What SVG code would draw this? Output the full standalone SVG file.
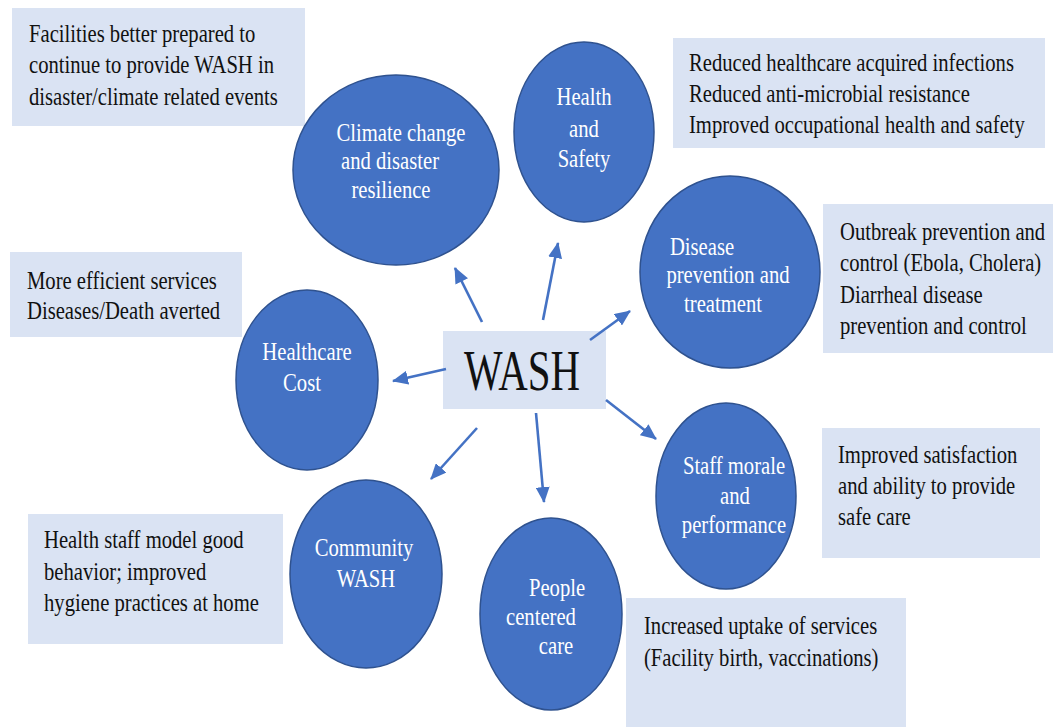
<svg xmlns="http://www.w3.org/2000/svg" width="1053" height="727" viewBox="0 0 1053 727">
<defs>
<marker id="ah" markerUnits="userSpaceOnUse" markerWidth="16" markerHeight="14" refX="15" refY="7" orient="auto">
<path d="M0,0 L16,7 L0,14 z" fill="#4472C4"/>
</marker>
</defs>
<style>
.c{fill:#4472C4;stroke:#2F528F;stroke-width:1.5}
.b{fill:#DAE3F3}
.ct{font-size:25.5px;fill:#fff;text-anchor:middle}
.bt{font-size:25.5px;fill:#111}
.a{stroke:#4472C4;stroke-width:2.6;fill:none;marker-end:url(#ah)}
</style>
<rect width="1053" height="727" fill="#fff"/>
<g font-family="Liberation Serif, Times New Roman, serif">
<g id="box-climate">
<rect class="b" x="12" y="8" width="293" height="118"/>
<text class="bt" transform="translate(29,42) scale(0.81,1)">Facilities better prepared to</text>
<text class="bt" transform="translate(29,73) scale(0.81,1)">continue to provide WASH in</text>
<text class="bt" transform="translate(29,105) scale(0.81,1)">disaster/climate related events</text>
</g>
<g id="box-health">
<rect class="b" x="673" y="38" width="372" height="110"/>
<text class="bt" transform="translate(689,71) scale(0.81,1)">Reduced healthcare acquired infections</text>
<text class="bt" transform="translate(689,102) scale(0.81,1)">Reduced anti-microbial resistance</text>
<text class="bt" transform="translate(689,133) scale(0.81,1)">Improved occupational health and safety</text>
</g>
<g id="box-disease">
<rect class="b" x="823" y="204" width="230" height="149"/>
<text class="bt" transform="translate(840,240) scale(0.81,1)">Outbreak prevention and</text>
<text class="bt" transform="translate(840,271) scale(0.81,1)">control (Ebola, Cholera)</text>
<text class="bt" transform="translate(840,303) scale(0.81,1)">Diarrheal disease</text>
<text class="bt" transform="translate(840,334) scale(0.81,1)">prevention and control</text>
</g>
<g id="box-cost">
<rect class="b" x="10" y="252" width="232" height="85"/>
<text class="bt" transform="translate(27,289) scale(0.81,1)">More efficient services</text>
<text class="bt" transform="translate(27,319) scale(0.81,1)">Diseases/Death averted</text>
</g>
<g id="box-staff">
<rect class="b" x="822" y="428" width="218" height="130"/>
<text class="bt" transform="translate(838,463) scale(0.81,1)">Improved satisfaction</text>
<text class="bt" transform="translate(838,494) scale(0.81,1)">and ability to provide</text>
<text class="bt" transform="translate(838,525) scale(0.81,1)">safe care</text>
</g>
<g id="box-community">
<rect class="b" x="28" y="514" width="255" height="130"/>
<text class="bt" transform="translate(44,548) scale(0.81,1)">Health staff model good</text>
<text class="bt" transform="translate(44,580) scale(0.81,1)">behavior; improved</text>
<text class="bt" transform="translate(44,611) scale(0.81,1)">hygiene practices at home</text>
</g>
<g id="box-people">
<rect class="b" x="626" y="598" width="280" height="129"/>
<text class="bt" transform="translate(644,634) scale(0.81,1)">Increased uptake of services</text>
<text class="bt" transform="translate(644,666) scale(0.81,1)">(Facility birth, vaccinations)</text>
</g>

<g id="node-climate">
<ellipse class="c" cx="396" cy="170" rx="103" ry="95"/>
<text class="ct" transform="translate(401,141) scale(0.81,1)">Climate change</text>
<text class="ct" transform="translate(390,169) scale(0.81,1)">and disaster</text>
<text class="ct" transform="translate(391,198) scale(0.81,1)">resilience</text>
</g>
<g id="node-health">
<ellipse class="c" cx="584" cy="132" rx="70" ry="90"/>
<text class="ct" transform="translate(584,105) scale(0.81,1)">Health</text>
<text class="ct" transform="translate(584,137) scale(0.81,1)">and</text>
<text class="ct" transform="translate(584,167) scale(0.81,1)">Safety</text>
</g>
<g id="node-disease">
<ellipse class="c" cx="730" cy="272" rx="90" ry="96"/>
<text class="ct" transform="translate(702,255) scale(0.81,1)">Disease</text>
<text class="ct" transform="translate(728,283) scale(0.81,1)">prevention and</text>
<text class="ct" transform="translate(723,312) scale(0.81,1)">treatment</text>
</g>
<g id="node-cost">
<ellipse class="c" cx="307" cy="380" rx="71" ry="90"/>
<text class="ct" transform="translate(307,360) scale(0.81,1)">Healthcare</text>
<text class="ct" transform="translate(302,391) scale(0.81,1)">Cost</text>
</g>
<g id="node-staff">
<ellipse class="c" cx="726" cy="496" rx="70" ry="93"/>
<text class="ct" transform="translate(734,474) scale(0.81,1)">Staff morale</text>
<text class="ct" transform="translate(735,504) scale(0.81,1)">and</text>
<text class="ct" transform="translate(734,533) scale(0.81,1)">performance</text>
</g>
<g id="node-community">
<ellipse class="c" cx="366" cy="574" rx="76" ry="94"/>
<text class="ct" transform="translate(364,556) scale(0.81,1)">Community</text>
<text class="ct" transform="translate(366,587) scale(0.81,1)">WASH</text>
</g>
<g id="node-people">
<ellipse class="c" cx="551" cy="614" rx="71" ry="96"/>
<text class="ct" transform="translate(557,596) scale(0.81,1)">People</text>
<text class="ct" transform="translate(541,625) scale(0.81,1)">centered</text>
<text class="ct" transform="translate(556,654) scale(0.81,1)">care</text>
</g>

<g id="node-wash">
<rect class="b" x="443" y="331" width="163" height="78"/>
<text transform="translate(522,390) scale(0.73,1)" font-size="56" fill="#111" text-anchor="middle">WASH</text>
</g>
</g>
<g id="connectors">
<line class="a" x1="482" y1="322" x2="455" y2="268"/>
<line class="a" x1="543" y1="320" x2="558" y2="243"/>
<line class="a" x1="590" y1="340" x2="630" y2="311"/>
<line class="a" x1="446" y1="369" x2="393" y2="381"/>
<line class="a" x1="606" y1="400" x2="656" y2="439"/>
<line class="a" x1="477" y1="428" x2="431" y2="479"/>
<line class="a" x1="536" y1="413" x2="544" y2="502"/>
</g>
</svg>
